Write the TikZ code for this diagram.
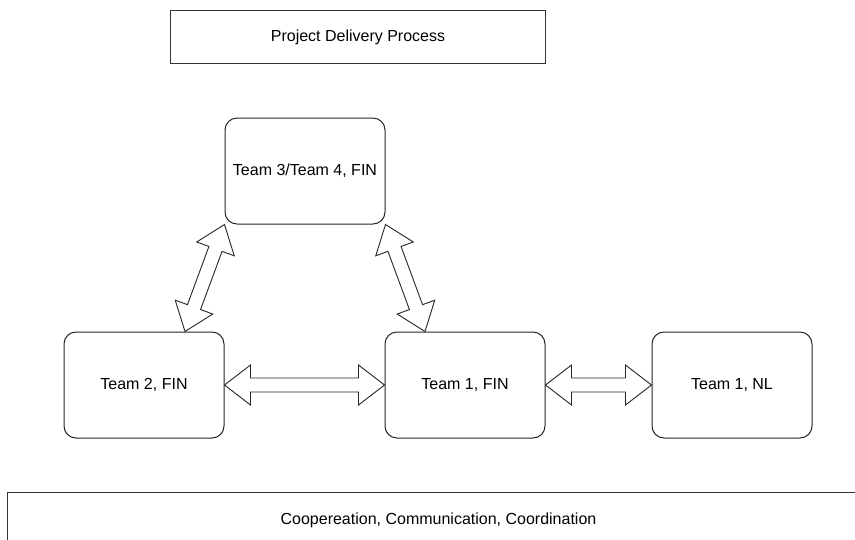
\documentclass[tikz,border=0pt]{standalone}
\usepackage{fontspec}
\setmainfont{Liberation Sans}
\usetikzlibrary{calc}
\newcommand\dblarr[2]{%
  \draw[dblarrow] (#1)
   -- ($(#1)!26pt!(#2)!20pt!90:(#2)$)
   -- ($(#1)!26pt!(#2)!7pt!90:(#2)$)
   -- ($(#2)!26pt!(#1)!7pt!-90:(#1)$)
   -- ($(#2)!26pt!(#1)!20pt!-90:(#1)$)
   -- (#2)
   -- ($(#2)!26pt!(#1)!20pt!90:(#1)$)
   -- ($(#2)!26pt!(#1)!7pt!90:(#1)$)
   -- ($(#1)!26pt!(#2)!7pt!-90:(#2)$)
   -- ($(#1)!26pt!(#2)!20pt!-90:(#2)$)
   -- cycle;}
\begin{document}
\begin{tikzpicture}[x=1pt,y=-1pt,
  font=\fontsize{16}{19}\selectfont,
  team/.style={draw=black!85, line width=1pt, rounded corners=12pt,
    minimum width=160pt, minimum height=106pt, inner sep=0pt, fill=white},
  plainbox/.style={draw=black!80, line width=1pt, inner sep=0pt},
  dblarrow/.style={draw=black!85, line width=0.9pt, fill=white, line join=miter}]
\clip (0,0) rectangle (855,539);
\fill[white] (0,0) rectangle (855,539);
\node[plainbox, minimum width=375pt, minimum height=53pt] (title) at (358,37) {Project Delivery Process};
\node[team] (t3) at (305,171) {Team 3/Team 4, FIN};
\node[team] (t2) at (144,385) {Team 2, FIN};
\node[team] (t1) at (465,385) {Team 1, FIN};
\node[team] (nl) at (732,385) {Team 1, NL};
\node[plainbox, minimum width=863pt, minimum height=56pt] (coop) at (438.5,520) {Coopereation, Communication, Coordination};
\coordinate (lb) at ($(t2.north)+(41,0)$);
\coordinate (rb) at ($(t1.north)+(-40,0)$);
\dblarr{lb}{t3.south west}
\dblarr{rb}{t3.south east}
\dblarr{t2.east}{t1.west}
\dblarr{t1.east}{nl.west}
\end{tikzpicture}
\end{document}
